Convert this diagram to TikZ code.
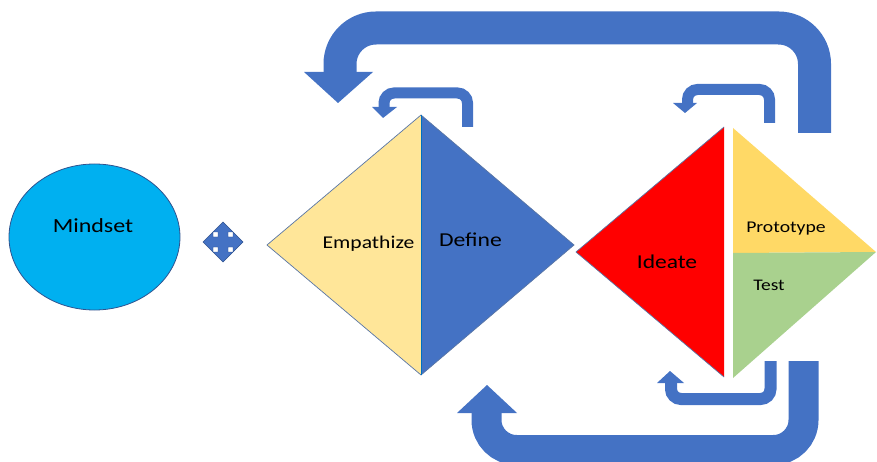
\documentclass[tikz,border=0pt]{standalone}
\usepackage{fontspec}
\setmainfont{Carlito}[FakeStretch=1.2]
\usetikzlibrary{shapes.geometric}
\definecolor{arrowblue}{HTML}{4472C4}
\definecolor{edgeblue}{HTML}{2F528F}
\definecolor{empyellow}{HTML}{FFE699}
\definecolor{protoyellow}{HTML}{FFD966}
\definecolor{testgreen}{HTML}{A9D18E}
\definecolor{mindcyan}{HTML}{00B0F0}
\definecolor{splitblue}{HTML}{0070C0}
\begin{document}
\begin{tikzpicture}[x=1pt,y=-1pt,
  bent/.style={draw=arrowblue, line width=#1},
  headtri/.style={fill=arrowblue},
  lbl/.style={anchor=base, inner sep=0pt, text=black}]
\useasboundingbox (0,0) rectangle (877,462);
\clip (0,0) rectangle (877,462);

% ---------- coordinates ----------
\coordinate (eT) at (421,115);
\coordinate (eL) at (267,245);
\coordinate (eB) at (421,375);
\coordinate (eR) at (574,245);
\coordinate (iT) at (724,127);
\coordinate (iL) at (576,252);
\coordinate (iB) at (724,377);
\coordinate (pT) at (733,128);
\coordinate (pR) at (876,252);
\coordinate (pM) at (733,253);
\coordinate (pB) at (733,378);

% ---------- Mindset ----------
\node[ellipse, draw=edgeblue, line width=0.8pt, fill=mindcyan,
      minimum width=171pt, minimum height=146pt, inner sep=0pt] (mind) at (94.5,237) {};
\node[lbl, font=\fontsize{20}{24}\selectfont] (mindtxt) at (93,233) {Mindset};

% ---------- quad arrow ----------
\begin{scope}[shift={(223,242)}]
\fill[arrowblue, draw=edgeblue, line width=0.4pt]
  (0,-20) -- (10,-10) -- (5,-10) -- (5,-5) -- (10,-5) -- (10,-10) -- (20,0)
  -- (10,10) -- (10,5) -- (5,5) -- (5,10) -- (10,10) -- (0,20)
  -- (-10,10) -- (-5,10) -- (-5,5) -- (-10,5) -- (-10,10) -- (-20,0)
  -- (-10,-10) -- (-10,-5) -- (-5,-5) -- (-5,-10) -- (-10,-10) -- cycle;
\end{scope}

% ---------- Empathize / Define diamond ----------
\fill[empyellow] (eT) -- (eL) -- (eB) -- cycle;
\fill[arrowblue] (eT) -- (eR) -- (eB) -- cycle;
\draw[edgeblue!80, line width=0.7pt] (eT) -- (eL) -- (eB) -- (eR) -- cycle;
\draw[splitblue, line width=0.8pt] (eT) -- (eB);
\node[lbl, font=\fontsize{18}{22}\selectfont] (emp) at (368.5,248) {Empathize};
\node[lbl, font=\fontsize{19.7}{24}\selectfont] (def) at (470.5,247) {Define};

% ---------- Ideate / Prototype / Test ----------
\fill[red] (iT) -- (iL) -- (iB) -- cycle;
\draw[edgeblue!80, line width=0.7pt] (iT) -- (iL) -- (iB);
\fill[protoyellow] (pT) -- (pR) -- (pM) -- cycle;
\fill[testgreen] (pM) -- (pR) -- (pB) -- cycle;
\node[lbl, font=\fontsize{19.6}{24}\selectfont] (ide) at (667,268) {Ideate};
\node[lbl, font=\fontsize{16.4}{20}\selectfont] (pro) at (786,233) {Prototype};
\node[lbl, font=\fontsize{16.2}{20}\selectfont] (tst) at (769,290) {Test};

% ---------- big top arrow ----------
\coordinate (bt1) at (814.5,133);
\coordinate (bt2) at (814.5,28);
\coordinate (bt3) at (340,28);
\coordinate (bt4) at (340,74);
\draw[bent=33pt, rounded corners=36pt] (bt1) -- (bt2) -- (bt3) -- (bt4);
\fill[headtri] (304,72) -- (373,72) -- (338,103) -- cycle;

% ---------- small top-left arrow ----------
\coordinate (sl1) at (467.5,127);
\coordinate (sl2) at (467.5,93);
\coordinate (sl3) at (384,93);
\coordinate (sl4) at (384,108);
\draw[bent=11pt, rounded corners=10pt] (sl1) -- (sl2) -- (sl3) -- (sl4);
\fill[headtri] (372,107) -- (397,107) -- (383,118) -- cycle;

% ---------- small top-right arrow ----------
\coordinate (sr1) at (769.5,123);
\coordinate (sr2) at (769.5,89.5);
\coordinate (sr3) at (687.5,89.5);
\coordinate (sr4) at (687.5,104);
\draw[bent=11pt, rounded corners=10pt] (sr1) -- (sr2) -- (sr3) -- (sr4);
\fill[headtri] (673,103) -- (697,103) -- (685,113) -- cycle;

% ---------- big bottom arrow ----------
\coordinate (bb1) at (803.5,361);
\coordinate (bb2) at (803.5,450);
\coordinate (bb3) at (486.5,450);
\coordinate (bb4) at (486.5,411);
\draw[bent=30pt, rounded corners=30pt] (bb1) -- (bb2) -- (bb3) -- (bb4);
\fill[headtri] (457,413) -- (517,413) -- (487,385) -- cycle;

% ---------- small bottom arrow ----------
\coordinate (sb1) at (770.5,361);
\coordinate (sb2) at (770.5,399);
\coordinate (sb3) at (671,399);
\coordinate (sb4) at (671,382);
\draw[bent=12pt, rounded corners=10pt] (sb1) -- (sb2) -- (sb3) -- (sb4);
\fill[headtri] (657,383) -- (684,383) -- (670,371) -- cycle;
\end{tikzpicture}
\end{document}
